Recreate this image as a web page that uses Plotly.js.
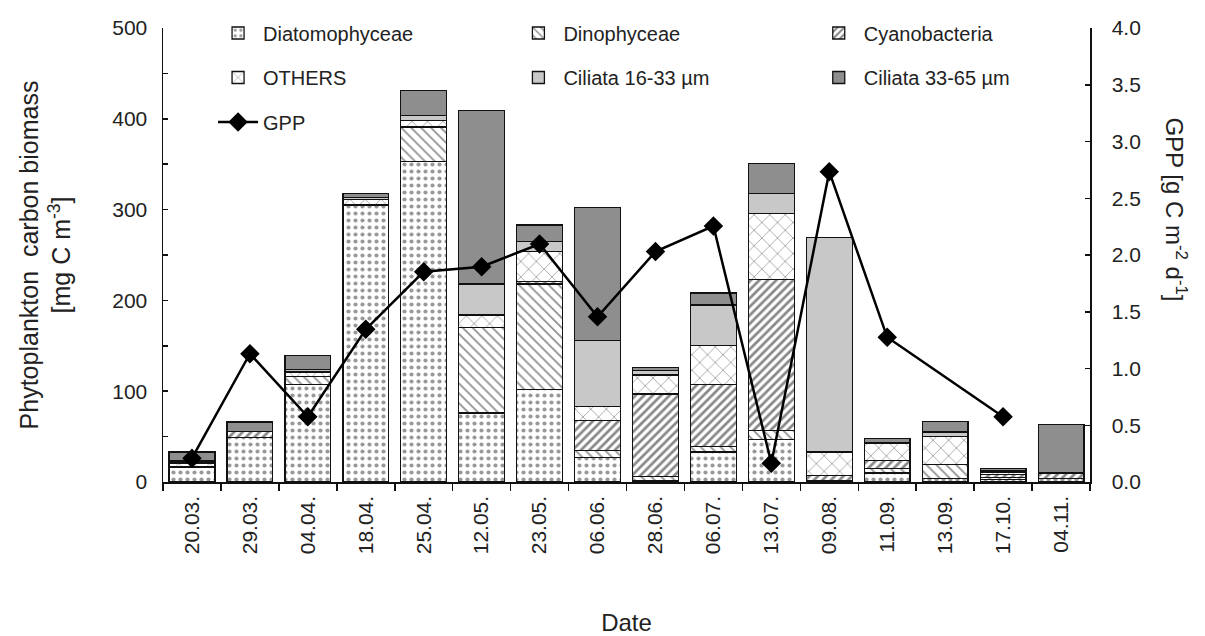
<!DOCTYPE html>
<html>
<head>
<meta charset="utf-8">
<script src="https://cdn.plot.ly/plotly-3.0.1.min.js"></script>
<style>html,body{margin:0;padding:0;background:#fff;}#chart{width:1205px;height:636px;}</style>
</head>
<body>
<div id="chart"></div>
<script>
const dates = ['20.03.','29.03.','04.04.','18.04.','25.04.','12.05.','23.05.','06.06.','28.06.','06.07.','13.07.','09.08.','11.09.','13.09.','17.10.','04.11.'];
const diatom = [16,49,107,305,353,76,102,27,2,33,47,1,10,4,3,4];
const dino   = [1,0,9,0,38,94,116,8,4,6,10,1,5,15,2,0];
const cyano  = [0,7,0,0,0,0,3,33,91,68,166,5,9,0,3,6];
const others = [4,0,5,6,7,14,33,15,21,43,73,26,19,31,3,0];
const cil16  = [2,0,3,2,6,34,11,73,5,45,22,236,0,5,1,0];
const cil33  = [10,10,15,5,27,191,18,146,3,13,33,0,5,12,3,53];
const gpp    = [0.21,1.13,0.575,1.345,1.853,1.897,2.097,1.456,2.03,2.255,0.165,2.734,1.275,null,0.575,null];

const FONT = 'Liberation Sans, Arial, sans-serif';
const TXT = '#222';
const line = {color:'#111', width:1.3};
function bar(name, y, pattern, color, legend){
  return {type:'bar', name:name, x:dates, y:y, legend:legend,
    marker:{color:color, line:line, pattern:pattern}, hoverinfo:'y+name'};
}
const traces = [
  bar('Diatomophyceae', diatom, {shape:'.', bgcolor:'#ffffff', fgcolor:'#333', size:7, solidity:0.28, fillmode:'overlay'}, '#ffffff', 'legend'),
  bar('Dinophyceae', dino, {shape:'\\', bgcolor:'#ffffff', fgcolor:'#222', size:7, solidity:0.25, fillmode:'overlay'}, '#ffffff', 'legend2'),
  bar('Cyanobacteria', cyano, {shape:'/', bgcolor:'#ffffff', fgcolor:'#111', size:6, solidity:0.45, fillmode:'overlay'}, '#ffffff', 'legend3'),
  bar('OTHERS', others, {shape:'x', bgcolor:'#ffffff', fgcolor:'#444', size:11, solidity:0.15, fillmode:'overlay'}, '#ffffff', 'legend4'),
  bar('Ciliata 16-33 µm', cil16, {shape:''}, '#c8c8c8', 'legend5'),
  bar('Ciliata 33-65 µm', cil33, {shape:''}, '#8e8e8e', 'legend6'),
  {type:'scatter', mode:'lines+markers', name:'GPP', x:dates, y:gpp, yaxis:'y2', connectgaps:true, legend:'legend7',
   line:{color:'#000', width:2.5}, marker:{symbol:'diamond', size:15, color:'#000'}}
];
function leg(x, y){
  return {x:x, y:y, xanchor:'left', yanchor:'middle', orientation:'v', bgcolor:'rgba(0,0,0,0)',
    font:{family:FONT, size:20, color:TXT}, itemwidth:40};
}
const c1 = 0.054, c2 = 0.378, c3 = 0.702;
const r1 = 0.989, r2 = 0.891, r3 = 0.793;
const layout = {
  width:1205, height:636,
  margin:{l:163, r:115, t:28, b:154},
  paper_bgcolor:'#fff', plot_bgcolor:'#fff',
  barmode:'stack', bargap:0.21,
  font:{family:FONT, size:21, color:TXT},
  showlegend:true,
  legend:leg(c1, r1), legend2:leg(c2, r1), legend3:leg(c3, r1),
  legend4:leg(c1, r2), legend5:leg(c2, r2), legend6:leg(c3, r2),
  legend7:leg(c1, r3),
  xaxis:{type:'category', tickson:'boundaries', ticks:'outside', ticklen:7, tickwidth:1.5, tickcolor:'#111',
    showline:true, linecolor:'#111', linewidth:1.5, tickangle:-90, showgrid:false, zeroline:false,
    range:[-0.5,15.5], tickfont:{family:FONT, size:21, color:TXT}, ticklabelstandoff:4,
    title:{text:'Date', font:{family:FONT, size:24, color:TXT}, standoff:62}},
  yaxis:{range:[0,500], dtick:100, ticks:'inside', ticklen:5, tickwidth:1.5, tickcolor:'#111',
    minor:{dtick:50, ticks:'inside', ticklen:5, tickwidth:1.5, tickcolor:'#111'},
    showline:true, linecolor:'#111', linewidth:1.5, showgrid:false, zeroline:false,
    tickfont:{family:FONT, size:21, color:TXT}, ticklabelstandoff:10,
    title:{text:'Phytoplankton  carbon biomass<br>[mg C m<sup>-3</sup>]', font:{family:FONT, size:25, color:TXT}, standoff:34}},
  yaxis2:{overlaying:'y', side:'right', range:[0,4], dtick:0.5, tickformat:'.1f', ticks:'inside', ticklen:5, tickwidth:1.5, tickcolor:'#111',
    showline:true, linecolor:'#111', linewidth:1.5, showgrid:false, zeroline:false,
    tickfont:{family:FONT, size:21, color:TXT}, ticklabelstandoff:16},
  annotations:[{text:'GPP [g C m<sup>-2</sup> d<sup>-1</sup>]', textangle:90, xref:'paper', yref:'paper',
    x:1.093, y:0.6, xanchor:'center', yanchor:'middle', showarrow:false,
    font:{family:FONT, size:24, color:TXT}}]
};
Plotly.newPlot('chart', traces, layout, {displayModeBar:false, staticPlot:true});
</script>
</body>
</html>
